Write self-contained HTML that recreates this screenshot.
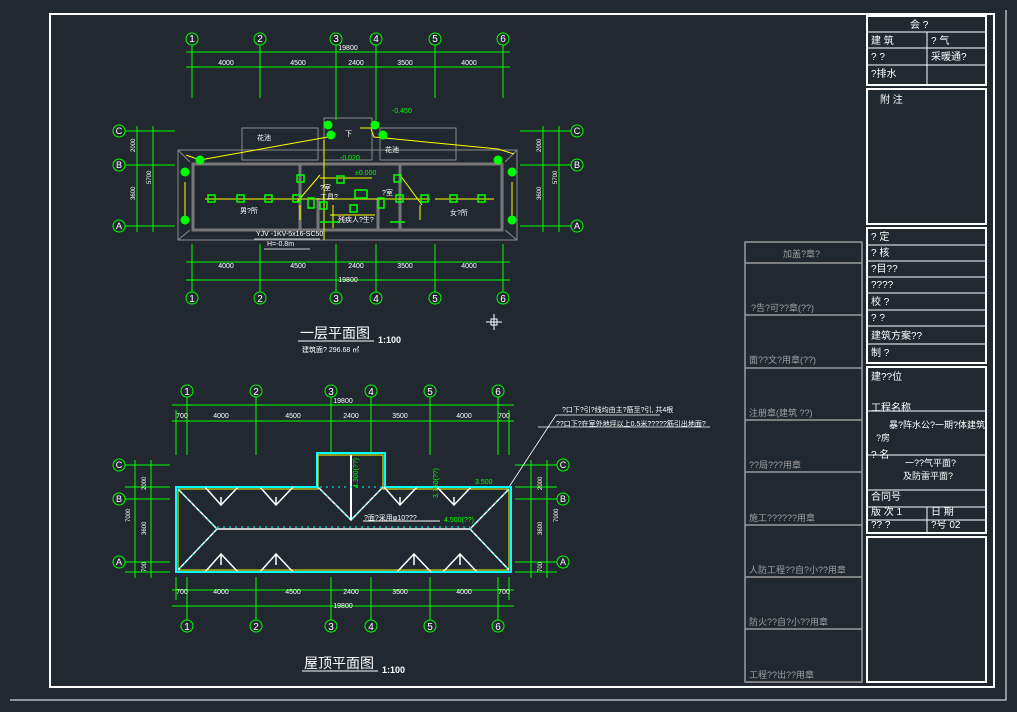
<!DOCTYPE html>
<html><head><meta charset="utf-8"><style>
html,body{margin:0;padding:0;background:#212830;}
svg{display:block}
text{font-family:"Liberation Sans","Noto Sans CJK SC",sans-serif;}
</style></head><body>
<svg width="1017" height="712" viewBox="0 0 1017 712" xmlns="http://www.w3.org/2000/svg">
<rect width="1017" height="712" fill="#212830"/>
<rect x="50" y="14" width="944" height="673" fill="none" stroke="#fff" stroke-width="2"/>
<polyline points="1006,10 1006,700 10,700" fill="none" stroke="#fff" stroke-width="1"/>

<g stroke="#00ff00" stroke-width="1" fill="none">
  <circle cx="192" cy="39" r="6"/><circle cx="260" cy="39" r="6"/><circle cx="336" cy="39" r="6"/><circle cx="376" cy="39" r="6"/><circle cx="435" cy="39" r="6"/><circle cx="503" cy="39" r="6"/>
  <circle cx="192" cy="298" r="6"/><circle cx="260" cy="298" r="6"/><circle cx="336" cy="298" r="6"/><circle cx="376" cy="298" r="6"/><circle cx="435" cy="298" r="6"/><circle cx="503" cy="298" r="6"/>
  <path d="M192 45V98M260 45V98M336 45V120M376 45V120M435 45V98M503 45V98"/>
  <path d="M192 244V292M260 244V292M336 244V292M376 244V292M435 244V292M503 244V292"/>
  <path d="M186 52H510M186 67H510M186 262H510M186 280H510"/>
  <circle cx="119" cy="131" r="6"/><circle cx="119" cy="165" r="6"/><circle cx="119" cy="226" r="6"/>
  <circle cx="577" cy="131" r="6"/><circle cx="577" cy="165" r="6"/><circle cx="577" cy="226" r="6"/>
  <path d="M125 131H175M125 165H175M125 226H175M520 131H571M520 165H571M520 226H571"/>
  <path d="M137 126V232M153 126V232M543 126V232M559 126V232"/>
</g>
<g fill="#fff" font-size="9" text-anchor="middle">
  <text x="192" y="42" font-size="10">1</text><text x="260" y="42" font-size="10">2</text><text x="336" y="42" font-size="10">3</text><text x="376" y="42" font-size="10">4</text><text x="435" y="42" font-size="10">5</text><text x="503" y="42" font-size="10">6</text>
  <text x="192" y="302" font-size="10">1</text><text x="260" y="302" font-size="10">2</text><text x="336" y="302" font-size="10">3</text><text x="376" y="302" font-size="10">4</text><text x="435" y="302" font-size="10">5</text><text x="503" y="302" font-size="10">6</text>
  <text x="348" y="50" font-size="7">19800</text>
  <text x="226" y="65" font-size="7">4000</text><text x="298" y="65" font-size="7">4500</text><text x="356" y="65" font-size="7">2400</text><text x="405" y="65" font-size="7">3500</text><text x="469" y="65" font-size="7">4000</text>
  <text x="226" y="268" font-size="7">4000</text><text x="298" y="268" font-size="7">4500</text><text x="356" y="268" font-size="7">2400</text><text x="405" y="268" font-size="7">3500</text><text x="469" y="268" font-size="7">4000</text>
  <text x="348" y="282" font-size="7">19800</text>
  <text x="119" y="134" font-size="9">C</text><text x="119" y="168" font-size="9">B</text><text x="119" y="229" font-size="9">A</text>
  <text x="577" y="134" font-size="9">C</text><text x="577" y="168" font-size="9">B</text><text x="577" y="229" font-size="9">A</text>
</g>
<g fill="#fff" font-size="6">
  <text x="135" y="152" transform="rotate(-90 135 152)">2000</text>
  <text x="135" y="200" transform="rotate(-90 135 200)">3600</text>
  <text x="151" y="184" transform="rotate(-90 151 184)">5700</text>
  <text x="541" y="152" transform="rotate(-90 541 152)">2000</text>
  <text x="541" y="200" transform="rotate(-90 541 200)">3600</text>
  <text x="557" y="184" transform="rotate(-90 557 184)">5700</text>
</g>
<g stroke="#8a8a8a" fill="none" stroke-width="1">
  <rect x="178" y="150" width="339" height="90"/>
  <rect x="242" y="128" width="76" height="32"/>
  <rect x="380" y="128" width="76" height="32"/>
  <rect x="324" y="118" width="48" height="42"/>
  <path d="M178 150L190 162M517 150L505 162M178 240L190 230M517 240L505 230"/>
</g>
<g stroke="#777" stroke-width="3" fill="none">
  <rect x="193" y="164" width="309" height="66"/>
  <path d="M300 164V230M400 164V230M318 198V230M378 198V230"/>
</g>
<g stroke="#ffff00" stroke-width="1" fill="none">
  <path d="M186 155L200 160L328 137M371 129L374 137L498 149L514 154"/>
  <path d="M185 182V218M512 182V218"/>
  <path d="M205 199H430M435 199H494"/>
  <path d="M320 175L297 202M400 175L422 205M320 178H372M360 128H375"/>
  <path d="M324 140V240M330 215H375M333 205V228"/>
  <path d="M300 205V220M420 205V220"/>
</g>
<g fill="#00ff00" stroke="#00ff00">
  <circle cx="200" cy="160" r="4"/><circle cx="185" cy="172" r="4"/><circle cx="185" cy="220" r="4"/>
  <circle cx="498" cy="160" r="4"/><circle cx="512" cy="172" r="4"/><circle cx="512" cy="220" r="4"/>
  <circle cx="328" cy="125" r="4"/><circle cx="375" cy="125" r="4"/><circle cx="331" cy="135" r="4"/><circle cx="383" cy="135" r="4"/>
</g>
<g fill="none" stroke="#00ff00" stroke-width="1.5">
  <rect x="208" y="195" width="7" height="7"/><rect x="237" y="195" width="7" height="7"/><rect x="265" y="195" width="7" height="7"/><rect x="293" y="195" width="7" height="7"/>
  <rect x="297" y="175" width="7" height="7"/><rect x="337" y="176" width="7" height="7"/><rect x="320" y="202" width="7" height="7"/><rect x="350" y="205" width="7" height="7"/>
  <rect x="394" y="175" width="7" height="7"/><rect x="396" y="195" width="7" height="7"/><rect x="421" y="195" width="7" height="7"/><rect x="450" y="195" width="7" height="7"/><rect x="478" y="195" width="7" height="7"/>
  <rect x="308" y="198" width="6" height="10"/><rect x="355" y="190" width="12" height="8"/><rect x="378" y="198" width="6" height="10"/>
  <path d="M320 222H340M390 222H405"/>
</g>
<g fill="#00ff00" font-size="7">
  <text x="340" y="160">-0.020</text><text x="355" y="175">±0.000</text><text x="392" y="113">-0.450</text>
</g>
<g fill="#fff" font-size="7">
  <text x="257" y="140">花池</text><text x="385" y="152">花池</text><text x="345" y="136">下</text>
  <text x="240" y="213">男?所</text><text x="450" y="215">女?所</text>
  <text x="320" y="190">?室</text><text x="382" y="195">?室</text><text x="320" y="199">工具?</text>
  <text x="338" y="222">残疾人?生?</text>
  <text x="256" y="236">YJV -1KV-5x16-SC50</text><text x="267" y="246">H=-0.8m</text>
</g>
<path d="M254 239H320M264 249H310" stroke="#fff" stroke-width="0.8"/>
<text x="300" y="338" fill="#fff" font-size="14">一层平面图</text>
<text x="378" y="343" fill="#fff" font-size="9" font-weight="bold">1:100</text>
<path d="M298 341H374" stroke="#fff" stroke-width="1"/>
<text x="302" y="352" fill="#fff" font-size="7">建筑面? 296.68 ㎡</text>
<path d="M486 322H502M494 314V330" stroke="#fff"/><rect x="491" y="319" width="6" height="6" fill="none" stroke="#fff"/>

<g stroke="#00ff00" stroke-width="1" fill="none">
  <circle cx="187" cy="391" r="6"/><circle cx="256" cy="391" r="6"/><circle cx="331" cy="391" r="6"/><circle cx="371" cy="391" r="6"/><circle cx="430" cy="391" r="6"/><circle cx="498" cy="391" r="6"/>
  <circle cx="187" cy="626" r="6"/><circle cx="256" cy="626" r="6"/><circle cx="331" cy="626" r="6"/><circle cx="371" cy="626" r="6"/><circle cx="430" cy="626" r="6"/><circle cx="498" cy="626" r="6"/>
  <path d="M187 397V455M256 397V455M331 397V455M371 397V455M430 397V455M498 397V455M176 410V455M509 410V455"/>
  <path d="M187 577V620M256 577V620M331 577V620M371 577V620M430 577V620M498 577V620M176 577V600M509 577V600"/>
  <path d="M172 405H514M172 421H514M172 590H514M172 606H514"/>
  <circle cx="119" cy="465" r="6"/><circle cx="119" cy="499" r="6"/><circle cx="119" cy="562" r="6"/>
  <circle cx="563" cy="465" r="6"/><circle cx="563" cy="499" r="6"/><circle cx="563" cy="562" r="6"/>
  <path d="M125 465H170M125 499H170M125 562H170M125 487H170M125 572H170M515 465H557M515 499H557M515 562H557M515 487H557M515 572H557"/>
  <path d="M135 460V578M151 460V578M531 460V578M547 460V578"/>
</g>
<g fill="#fff" text-anchor="middle" font-size="10">
  <text x="187" y="395">1</text><text x="256" y="395">2</text><text x="331" y="395">3</text><text x="371" y="395">4</text><text x="430" y="395">5</text><text x="498" y="395">6</text>
  <text x="187" y="630">1</text><text x="256" y="630">2</text><text x="331" y="630">3</text><text x="371" y="630">4</text><text x="430" y="630">5</text><text x="498" y="630">6</text>
  <text x="119" y="468" font-size="9">C</text><text x="119" y="502" font-size="9">B</text><text x="119" y="565" font-size="9">A</text>
  <text x="563" y="468" font-size="9">C</text><text x="563" y="502" font-size="9">B</text><text x="563" y="565" font-size="9">A</text>
  <g font-size="7">
  <text x="343" y="403">19800</text>
  <text x="182" y="418">700</text><text x="221" y="418">4000</text><text x="293" y="418">4500</text><text x="351" y="418">2400</text><text x="400" y="418">3500</text><text x="464" y="418">4000</text><text x="504" y="418">700</text>
  <text x="182" y="594">700</text><text x="221" y="594">4000</text><text x="293" y="594">4500</text><text x="351" y="594">2400</text><text x="400" y="594">3500</text><text x="464" y="594">4000</text><text x="504" y="594">700</text>
  <text x="343" y="608">19800</text>
  </g>
</g>
<g fill="#fff" font-size="6">
  <text x="146" y="490" transform="rotate(-90 146 490)">2000</text>
  <text x="146" y="535" transform="rotate(-90 146 535)">3600</text>
  <text x="130" y="522" transform="rotate(-90 130 522)">7000</text>
  <text x="146" y="572" transform="rotate(-90 146 572)">700</text>
  <text x="542" y="490" transform="rotate(-90 542 490)">2000</text>
  <text x="542" y="535" transform="rotate(-90 542 535)">3600</text>
  <text x="558" y="522" transform="rotate(-90 558 522)">7000</text>
  <text x="542" y="572" transform="rotate(-90 542 572)">700</text>
</g>
<g fill="none">
  <path d="M176 487H317V453H385V487H511V572H176Z" stroke="#00ffff" stroke-width="2"/>
  <path d="M178 489H318V455H383V489H509V570H178Z" stroke="#ffff00" stroke-width="1"/>
  <path d="M351 455V520" stroke="#fff" stroke-width="2"/>
  <g stroke="#fff" stroke-width="1.5">
    <path d="M178 489L217 529L178 570M509 489L470 529L509 570M217 529H470M318 487L351 520L383 487"/>
    <path d="M205 487L221 505L238 487M260 487L276 505L293 487M384 487L400 505L417 487M437 487L454 505L471 487"/>
    <path d="M205 572L221 554L238 572M260 572L276 554L293 572M397 572L414 554L431 572M443 572L460 554L477 572"/>
    <path d="M221 497V505M276 497V505M400 497V505M454 497V505M221 554V565M276 554V565M414 554V565M460 554V565"/>
  </g>
  <g stroke="#00ffff" stroke-width="1" stroke-dasharray="2 4">
    <path d="M178 489L217 529L178 570M509 489L470 529L509 570M217 527H470M318 487L351 520L383 487M176 487H511M176 572H511"/>
  </g>
</g>
<g fill="#00ff00" font-size="7">
  <text x="475" y="484">3.500</text><text x="444" y="522">4.500(??)</text>
  <text x="358" y="488" transform="rotate(-90 358 488)">4.300(??)</text>
  <text x="438" y="498" transform="rotate(-90 438 498)">3.750(??)</text>
</g>
<text x="364" y="520" fill="#fff" font-size="7">?面?采用φ10???</text>
<path d="M363 521H440" stroke="#fff"/>
<path d="M509 487L556 415H660M538 427H710" stroke="#fff" stroke-width="0.8" fill="none"/>
<text x="562" y="412" fill="#fff" font-size="7">?口下?引?线均由主?筋至?引, 共4根</text>
<text x="556" y="426" fill="#fff" font-size="7">??口下?在室外地坪以上0.5米?????筋引出地面?</text>
<text x="304" y="668" fill="#fff" font-size="14">屋顶平面图</text>
<text x="382" y="673" fill="#fff" font-size="9" font-weight="bold">1:100</text>
<path d="M302 671H378" stroke="#fff"/>

<g stroke="#9a9a9a" stroke-width="1.5" fill="none">
  <rect x="745" y="242" width="117" height="440"/>
  <path d="M745 263H862M745 315H862M745 368H862M745 420H862M745 472H862M745 525H862M745 577H862M745 629H862"/>
</g>
<g fill="#a0a0a0" font-size="9">
  <text x="783" y="257">加盖?章?</text>
  <text x="751" y="311">?告?可??章(??)</text>
  <text x="749" y="363">面??文?用章(??)</text>
  <text x="749" y="416">注册章(建筑 ??)</text>
  <text x="749" y="468">??局???用章</text>
  <text x="749" y="521">施工??????用章</text>
  <text x="749" y="573">人防工程??自?小??用章</text>
  <text x="749" y="625">防火??自?小??用章</text>
  <text x="749" y="678">工程??出??用章</text>
</g>

<g stroke="#fff" fill="none" stroke-width="2">
  <rect x="867" y="16" width="119" height="69"/>
  <rect x="867" y="89" width="119" height="135"/>
  <rect x="867" y="228" width="119" height="135"/>
  <rect x="867" y="367" width="119" height="166"/>
  <rect x="867" y="537" width="119" height="145"/>
</g>
<g stroke="#fff" fill="none" stroke-width="1">
  <path d="M867 32H986M867 48H986M867 65H986M927 32V85"/>
  <path d="M867 245H986M867 261H986M867 277H986M867 293H986M867 310H986M867 326H986M867 344H986"/>
  <path d="M867 411H986M867 455H986M867 490H986M867 507H986M867 520H986M927 507V533"/>
</g>
<g fill="#fff" font-size="10">
  <text x="910" y="28">会 ?</text>
  <text x="871" y="44">建 筑</text><text x="931" y="44">? 气</text>
  <text x="871" y="60">? ?</text><text x="931" y="60">采暖通?</text>
  <text x="871" y="77">?排水</text>
  <text x="880" y="103">附 注</text>
  <text x="871" y="240">? 定</text><text x="871" y="256">? 核</text><text x="871" y="272">?目??</text>
  <text x="871" y="288">????</text><text x="871" y="305">校 ?</text><text x="871" y="321">? ?</text>
  <text x="871" y="339">建筑方案??</text><text x="871" y="356">制 ?</text>
  <text x="871" y="380">建??位</text>
  <text x="871" y="411">工程名称</text>
  <text x="889" y="428" font-size="9">暴?阵水公?一期?体建筑</text>
  <text x="876" y="441" font-size="9">?房</text>
  <text x="871" y="458">? 名</text>
  <text x="905" y="466" font-size="9">一??气平面?</text>
  <text x="903" y="479" font-size="9">及防雷平面?</text>
  <text x="871" y="500">合同号</text>
  <text x="871" y="515">版 次 1</text><text x="931" y="515">日 期</text>
  <text x="871" y="528">??  ?</text><text x="931" y="528">?号  02</text>
</g>
</svg>
</body></html>
